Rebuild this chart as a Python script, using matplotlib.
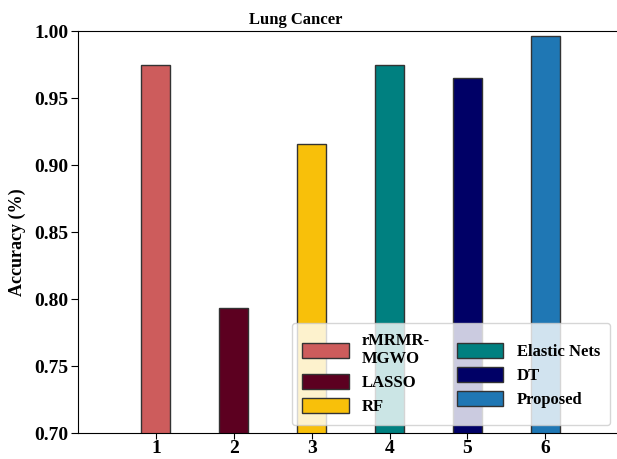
import numpy as np
import matplotlib.pyplot as plt

plt.rcParams['font.family'] = ['Liberation Serif', 'DejaVu Serif']
plt.rcParams['font.weight'] = 'bold'

positions = [1, 2, 3, 4, 5, 6]
accuracy = [0.975, 0.793, 0.916, 0.975, 0.965, 0.996]
methods = ['rMRMR-\nMGWO', 'LASSO', 'RF', 'Elastic Nets', 'DT', 'Proposed']
colors = ['#CD5C5C', '#5C0020', '#F8C00A', '#008080', '#000066', '#1F77B4']

fig = plt.figure(figsize=(6.17, 4.59), dpi=100)
ax = fig.add_axes([78/617, 1 - 433/459, 1 - 78/617 + 0.01, (433 - 31)/459])

for p, a, c, m in zip(positions, accuracy, colors, methods):
    ax.bar(p, a, width=0.37, color=c, edgecolor='#333333', linewidth=1, label=m)

ax.set_ylim(0.70, 1.00)
ax.set_xlim(0.0, 7.0)
ax.set_xticks(positions)
ax.set_yticks(np.arange(0.70, 1.001, 0.05))
ax.set_yticklabels(['%.2f' % v for v in np.arange(0.70, 1.001, 0.05)])
ax.tick_params(labelsize=14, length=5, pad=2)
ax.tick_params(axis='x', length=4, pad=1)
for lab in ax.get_xticklabels() + ax.get_yticklabels():
    lab.set_fontweight('bold')

ax.set_title('Lung Cancer', fontsize=12, fontweight='bold', pad=5, x=0.4)
ax.set_ylabel('Accuracy (%)', fontsize=13, fontweight='bold', labelpad=6, y=0.475)

leg = ax.legend(ncol=2, loc='lower right', bbox_to_anchor=(610/617, 34/459),
                bbox_transform=fig.transFigure, borderaxespad=0,
                prop={'weight': 'bold', 'size': 12}, framealpha=0.8,
                handlelength=2.8, handleheight=1.0, columnspacing=1.6,
                labelspacing=0.4, borderpad=0.6)

fig.savefig('out.png', dpi=100)
